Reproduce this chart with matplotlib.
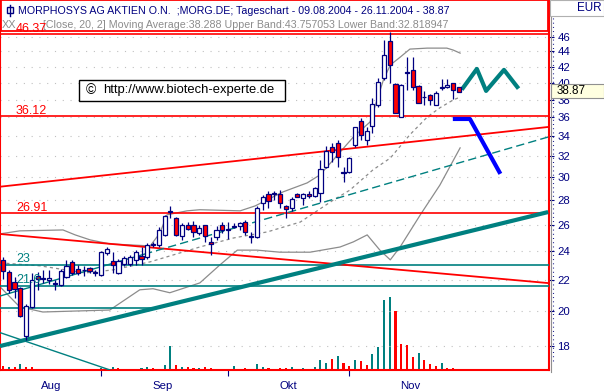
import numpy as np
import matplotlib.pyplot as plt
from matplotlib.patches import Rectangle
from matplotlib.ticker import NullLocator

plt.rcParams['font.family'] = ['Liberation Sans', 'DejaVu Sans']

W, H = 604, 392
NAVY, RED, TEAL, GREY = '#000080', '#ff0000', '#008080', '#8c8c8c'

# daily candles 09.08.2004 - 26.11.2004, trading day index 0..79
opens = [23.36, 22.54, 21.84, 21.44, 18.52, 20.27, 22.24, 22.10, 21.97, 21.75,
         21.65, 22.17, 23.22, 22.71, 22.66, 22.80, 22.45, 22.31, 23.83, 23.29,
         22.47, 23.08, 23.08, 23.36, 23.64, 23.57, 24.45, 24.45, 25.20, 27.04,
         26.52, 25.12, 25.96, 25.96, 25.38, 25.96, 24.69, 25.04, 25.96, 25.57,
         25.80, 25.88, 26.18, 25.12, 25.07, 27.74, 28.56, 28.52, 28.56, 27.52,
         27.35, 28.56, 28.15, 28.56, 28.37, 28.62, 31.01, 32.95, 33.31, 30.50,
         30.50, 33.13, 35.66, 33.57, 35.06, 37.42, 40.55, 45.35, 39.85, 36.08,
         41.35, 41.60, 39.61, 38.27, 38.56, 37.42, 39.41, 39.53, 40.00, 39.53]
highs = [23.59, 22.66, 22.17, 21.52, 20.44, 22.45, 22.54, 22.66, 22.66, 21.97,
         22.73, 23.36, 23.36, 23.01, 22.94, 22.89, 22.66, 24.01, 24.31, 23.91,
         23.43, 23.64, 23.71, 24.06, 24.29, 24.60, 24.68, 25.80, 26.80, 27.50,
         26.63, 26.15, 26.23, 26.31, 25.96, 25.96, 25.04, 25.88, 26.23, 26.23,
         26.10, 26.23, 26.39, 25.44, 27.52, 28.46, 28.78, 28.75, 28.92, 27.60,
         28.24, 28.62, 28.62, 28.78, 29.12, 31.63, 33.03, 33.31, 33.64, 31.01,
         31.94, 35.00, 35.91, 34.99, 38.15, 40.55, 45.55, 46.66, 39.93, 39.85,
         43.30, 43.22, 39.73, 38.95, 38.68, 38.95, 40.42, 40.42, 40.00, 39.53]
lows = [22.01, 21.14, 20.82, 19.65, 18.33, 20.18, 21.33, 21.78, 21.71, 21.33,
        21.59, 22.10, 22.31, 22.31, 22.24, 22.43, 22.24, 22.24, 23.68, 22.45,
        22.38, 22.94, 22.94, 23.01, 23.01, 23.43, 24.29, 24.29, 25.12, 26.52,
        25.12, 24.83, 25.57, 25.02, 25.20, 24.69, 23.68, 24.83, 25.38, 24.91,
        25.70, 25.57, 25.20, 24.57, 24.97, 27.20, 27.34, 28.01, 27.34, 26.52,
        27.07, 28.27, 27.58, 28.15, 28.27, 27.86, 30.86, 31.47, 31.01, 29.62,
        30.41, 32.95, 33.64, 33.13, 34.29, 37.20, 40.33, 39.93, 36.49, 36.08,
        39.14, 39.14, 37.58, 37.42, 37.42, 37.42, 39.14, 39.33, 38.04, 38.86]
closes = [22.61, 21.33, 21.40, 19.71, 20.31, 21.97, 22.01, 22.07, 22.10, 21.71,
          22.59, 22.94, 22.45, 22.47, 22.63, 22.56, 22.52, 23.91, 24.17, 23.01,
          23.29, 23.50, 23.57, 23.91, 23.43, 24.45, 24.53, 25.61, 26.71, 27.13,
          25.20, 25.96, 25.62, 25.44, 25.74, 25.12, 24.53, 25.57, 25.57, 25.65,
          25.88, 26.15, 25.44, 25.06, 27.32, 28.30, 27.95, 28.62, 27.74, 27.24,
          28.14, 28.30, 28.56, 28.37, 29.05, 30.76, 32.54, 32.44, 31.91, 30.44,
          31.87, 35.00, 34.13, 34.56, 37.53, 40.12, 43.45, 42.22, 36.53, 39.73,
          41.22, 39.53, 37.65, 38.27, 37.95, 38.82, 39.41, 39.73, 39.14, 38.87]

# volume (relative units) and its colour code, t = teal, r = red
volume = [4, 3.5, 3, 6, 3.5, 3, 1, 1, 1, 0, 0, 1, 0, 1, 0, 1, 0, 2, 0, 3.5,
          2, 1.5, 1, 0, 2.5, 3.5, 2, 0, 5, 24, 5, 3.5, 3, 2, 2, 3, 2, 1, 1, 1,
          4, 1, 2, 1, 6, 3, 2, 1, 2, 2, 3, 1, 2, 1, 3, 10, 7, 11, 14, 7.3,
          4, 10, 9, 5, 16, 23, 70, 73, 59, 26, 25, 13, 17, 10, 6, 4, 7, 2.3, 2.3, 0]
vol_colour = "rtrtrrrtrrttrrttttttrrttttrtttrtrrtrrtrrtrrtttrtrrtrtrtttrtrrtrrttttrrrrtrrrtrrr"

# Bollinger band (20, 2)
upper_days = [-0.5, 2.9, 10.4, 12.5, 15.1, 18.5, 25.5, 27.2, 28.4, 31.9, 34.1, 41.1,
              43.7, 48.5, 52.7, 54.9, 57.2, 60.7, 63.6, 65.9, 67.1, 68.8, 70.5, 73.5,
              76.9, 78.0, 79.2]
upper_vals = [25.28, 25.51, 25.58, 25.20, 24.82, 24.52, 24.37, 25.35, 26.78, 27.11, 27.20,
              27.11, 27.52, 28.71, 29.51, 30.23, 31.63, 33.92, 35.51, 40.32, 42.21, 43.22,
              44.30, 44.43, 44.43, 44.17, 43.76]
lower_days = [-0.5, 2.9, 6.9, 18.5, 23.7, 26.0, 28.9, 34.1, 37.6, 40.6, 44.0, 48.0,
              53.2, 58.4, 60.7, 63.1, 65.3, 67.1, 68.8, 72.3, 75.7, 79.2]
lower_vals = [21.52, 20.25, 19.94, 20.06, 21.33, 21.40, 21.14, 21.78, 23.01, 24.06, 24.06,
              23.91, 23.91, 24.29, 24.67, 25.20, 24.06, 23.36, 24.29, 26.78, 29.32, 32.82]
ma_days = [-0.5, 6.4, 14.2, 19.1, 25.5, 34.1, 40.0, 45.8, 51.5, 57.2, 60.1, 64.1,
           67.1, 70.5, 73.5, 75.7, 78.0, 79.2]
ma_vals = [23.15, 22.94, 22.45, 22.66, 23.22, 24.29, 24.97, 25.43, 26.20, 28.00, 28.87,
           30.70, 31.82, 34.16, 36.04, 37.07, 37.96, 38.29]

# drawn analysis lines (day, price end points)
red_up_days, red_up_vals = [-0.52, 94.45], [29.17, 34.97]
red_down_days, red_down_vals = [-0.52, 94.45], [25.27, 21.77]
thick_days, thick_vals = [-0.52, 94.45], [17.98, 27.01]
thin_up_days, thin_up_vals = [-0.52, 94.45], [20.93, 33.92]
thin_down_days, thin_down_vals = [-0.52, 18.55], [18.73, 16.72]
short_days, short_vals = [-0.52, 26.3], [20.18, 20.18]
blue_days, blue_vals = [78.3, 80.9, 86.0], [35.83, 35.83, 30.5]
zig_days, zig_vals = [79.7, 82.1, 83.7, 86.8, 89.1], [39.37, 41.71, 39.02, 41.59, 39.49]

levels = [46.37, 36.12, 26.91, 23, 21.6]
level_colours = [RED, RED, RED, TEAL, TEAL]

price_ticks = list(range(18, 47, 2))
month_starts = [17, 39, 60]
month_names = ['Aug', 'Sep', 'Okt', 'Nov']
month_mid = [8.3, 27.7, 49.4, 70.5]

last_close = closes[-1]

# ---------------------------------------------------------------- figure
fig = plt.figure(figsize=(W / 100, H / 100), dpi=100)
fig.patch.set_facecolor('white')

def fx(x):
    return x / W

def fy(y):
    return 1 - y / H

rect = [0, fy(370), 549 / W, 370 / H]
axv = fig.add_axes(rect)
ax = fig.add_axes(rect)
ax.patch.set_visible(False)

days = np.arange(len(closes))
xmin, xmax = -0.52, 94.6

# volume underneath
colours = [TEAL if c == 't' else RED for c in vol_colour]
axv.bar(days, volume, width=0.36, color=colours, linewidth=0)
axv.set_xlim(xmin, xmax)
axv.set_ylim(0, 370)
axv.axis('off')

ax.set_yscale('log')
ax.set_xlim(xmin, xmax)
ax.set_ylim(16.72, 51.42)

# dotted grid
for t in price_ticks:
    ax.axhline(t, color='#c0c0c0', lw=0.8, dashes=(1, 6), zorder=1)

# bands
ax.plot(upper_days, upper_vals, color=GREY, lw=0.9, zorder=2)
ax.plot(lower_days, lower_vals, color=GREY, lw=0.9, zorder=2)
ax.plot(ma_days, ma_vals, color=GREY, lw=0.9, dashes=(2.5, 2.5), zorder=2)

# analysis lines
for lv, col in zip(levels, level_colours):
    ax.axhline(lv, color=col, lw=1.2, zorder=3)
ax.plot(red_up_days, red_up_vals, color=RED, lw=1.3, zorder=3)
ax.plot(red_down_days, red_down_vals, color=RED, lw=1.3, zorder=3)
ax.plot(thick_days, thick_vals, color=TEAL, lw=3.0, zorder=3, solid_capstyle='butt')
solid, = ax.plot(thin_up_days, thin_up_vals, color=TEAL, lw=1.0, zorder=3)
solid.set_clip_path(Rectangle((-1, 1), 26, 100, transform=ax.transData))
dashed, = ax.plot(thin_up_days, thin_up_vals, color=TEAL, lw=1.0, dashes=(6, 3), zorder=3)
dashed.set_clip_path(Rectangle((25, 1), 80, 100, transform=ax.transData))
ax.plot(thin_down_days, thin_down_vals, color=TEAL, lw=1.0, zorder=3)
ax.plot(short_days, short_vals, color=TEAL, lw=1.2, zorder=3)
ax.plot(blue_days, blue_vals, color='#0000ff', lw=3.0, zorder=3)
ax.plot(zig_days, zig_vals, color=TEAL, lw=3.0, zorder=3)

# candles
o, c = np.array(opens), np.array(closes)
ax.vlines(days, lows, highs, color=NAVY, lw=0.9, zorder=4)
body_col = [RED if cc < oo else 'white' for oo, cc in zip(o, c)]
ax.bar(days, np.maximum(np.abs(c - o), 0.02), bottom=np.minimum(o, c), width=0.72,
       facecolor=body_col, edgecolor=NAVY, linewidth=0.9, zorder=5)

# axes styling
for s in ['left', 'bottom', 'right']:
    ax.spines[s].set_color(RED)
    ax.spines[s].set_linewidth(1.5)
ax.spines['top'].set_visible(False)
ax.yaxis.tick_right()
ax.set_yticks(price_ticks)
ax.set_yticklabels([str(t) for t in price_ticks])
ax.yaxis.set_minor_locator(NullLocator())
ax.tick_params(axis='y', colors=NAVY, labelsize=8.2, length=3.5, width=0.8, pad=2.5)
ax.set_xticks(month_starts)
ax.set_xticklabels([])
ax.set_xticks(month_mid, minor=True)
ax.set_xticklabels(month_names, minor=True)
ax.tick_params(axis='x', which='major', colors=NAVY, length=4.5, width=0.8)
ax.tick_params(axis='x', which='minor', length=0, pad=8, labelsize=8.2, labelcolor=NAVY)

# level labels
for lv, col in zip(levels, level_colours):
    ax.annotate(f'{lv:g}', xy=(xmin, lv), xytext=(11.5, 1.8), textcoords='offset points',
                color=col, fontsize=9, va='baseline', ha='left', zorder=12,
                annotation_clip=False)

# header box
ax.add_patch(Rectangle((fx(0.5), fy(31)), fx(547.5), 31 / H, transform=fig.transFigure,
                       facecolor='white', edgecolor=RED, lw=1.3, zorder=10, clip_on=False))
ax.add_patch(Rectangle((fx(7), fy(13)), fx(5.5), 6 / H, transform=fig.transFigure,
                       facecolor='white', edgecolor=NAVY, lw=1.0, zorder=11, clip_on=False))
ax.plot([fx(9.8), fx(9.8)], [fy(4.5), fy(15.5)], transform=fig.transFigure, color=NAVY,
        lw=1.0, zorder=11, clip_on=False)
ax.text(fx(18), fy(10.5), 'MORPHOSYS AG AKTIEN O.N.  ;MORG.DE; Tageschart - 09.08.2004 - 26.11.2004 - 38.87',
        transform=fig.transFigure, color=NAVY, fontsize=7.7, va='center', ha='left', zorder=11)
ax.text(fx(2), fy(24.5), 'XX', transform=fig.transFigure, color=GREY, fontsize=7.8,
        va='center', ha='left', zorder=11)
ax.text(fx(43), fy(24.5), '[Close, 20, 2] Moving Average:38.288 Upper Band:43.757053 Lower Band:32.818947',
        transform=fig.transFigure, color=GREY, fontsize=7.7, va='center', ha='left', zorder=11)

# copyright box
ax.add_patch(Rectangle((fx(79), fy(100.5)), fx(206), 20.5 / H, transform=fig.transFigure,
                       facecolor='white', edgecolor='black', lw=1.0, zorder=10, clip_on=False))
ax.text(fx(86), fy(90), '\u00a9', transform=fig.transFigure, color='black', fontsize=10,
        va='center', ha='left', zorder=11)
ax.text(fx(103), fy(90), 'http://www.biotech-experte.de', transform=fig.transFigure,
        color='black', fontsize=9.4, va='center', ha='left', zorder=11)

# right side decorations
ax.plot([fx(550.8), fx(550.8)], [fy(0), fy(372)], transform=fig.transFigure, color='#909090',
        lw=0.8, clip_on=False, zorder=6)
ax.plot([fx(552.5), fx(552.5)], [fy(18), fy(362)], transform=fig.transFigure, color=NAVY,
        lw=0.8, dashes=(0.8, 3), clip_on=False, zorder=6)
ax.add_patch(Rectangle((fx(550), fy(16)), fx(53.5), 16 / H, transform=fig.transFigure,
                       facecolor='white', edgecolor='#b0b0b0', lw=0.8, zorder=10, clip_on=False))
ax.text(fx(602), fy(8), 'EUR', transform=fig.transFigure, color=NAVY, fontsize=8.4,
        va='center', ha='right', zorder=11)
ax.add_patch(Rectangle((fx(551), fy(98)), fx(53), 14 / H, transform=fig.transFigure,
                       facecolor='#ffffe0', edgecolor='#909090', lw=0.8, zorder=10, clip_on=False))
ax.text(fx(557), fy(91), f'{last_close:.2f}', transform=fig.transFigure, color='black',
        fontsize=8.4, va='center', ha='left', zorder=11)

fig.savefig('out.png', dpi=100)
